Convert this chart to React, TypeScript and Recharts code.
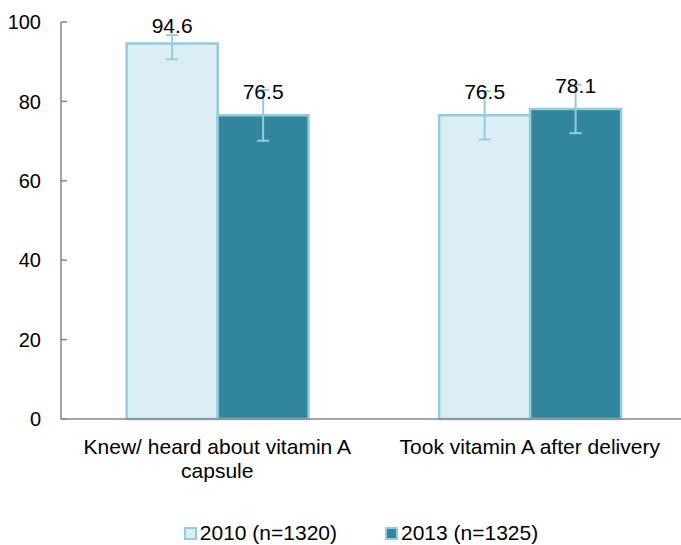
import React from "react";
import { BarChart, Bar, XAxis, YAxis, ErrorBar, LabelList, Legend } from "recharts";

const categories = ["Knew/ heard about vitamin A capsule", "Took vitamin A after delivery"];
const categoryTickLines = [["Knew/ heard about vitamin A", "capsule"], ["Took vitamin A after delivery"]];
const values2010 = [94.6, 76.5];
const values2013 = [76.5, 78.1];
const ci2010Low = [90.6, 70.4];
const ci2010High = [96.7, 82.6];
const ci2013Low = [70.1, 72.0];
const ci2013High = [82.9, 84.2];
const yTicks = [0, 20, 40, 60, 80, 100];
const edgeTicks = [0, 1, 2];
const seriesNames = ["2010 (n=1320)", "2013 (n=1325)"];

const data = categories.map((c, i) => ({
  name: c,
  v2010: values2010[i],
  v2013: values2013[i],
  e2010: [values2010[i] - ci2010Low[i], ci2010High[i] - values2010[i]],
  e2013: [values2013[i] - ci2013Low[i], ci2013High[i] - values2013[i]],
}));

const LIGHT = "#DBEEF4";
const DARK = "#31859C";
const BORDER = "#93CDDD";
const AXIS = "#868686";
const FONT = "'Liberation Sans', Arial, sans-serif";
const FS = 21;

const XTick = (props: any) => {
  const { x, y, payload, index } = props;
  const idx = categories.indexOf(payload.value);
  const lines = categoryTickLines[idx >= 0 ? idx : index] || [String(payload.value)];
  return (
    <text x={x} y={y + 27} textAnchor="middle" fontSize={FS} fontFamily={FONT} fill="#000">
      {lines.map((l: string, i: number) => (
        <tspan key={i} x={x} dy={i === 0 ? 0 : 24}>
          {l}
        </tspan>
      ))}
    </text>
  );
};

const ValueLabel = (props: any) => {
  const { x, y, width, value } = props;
  const base = Math.max(y - 16, 33);
  return (
    <text x={x + width / 2} y={base} textAnchor="middle" fontSize={FS} fontFamily={FONT} fill="#000">
      {value}
    </text>
  );
};

const LegendContent = () => (
  <div style={{ display: "flex", justifyContent: "center", fontFamily: FONT, fontSize: FS, color: "#000", lineHeight: "24px" }}>
    {seriesNames.map((n, i) => (
      <div key={n} style={{ display: "flex", alignItems: "center", marginLeft: i ? 48 : 0 }}>
        <span
          style={{
            display: "inline-block",
            width: 9,
            height: 9,
            background: i === 0 ? LIGHT : DARK,
            border: `2px solid ${BORDER}`,
            marginRight: 3,
          }}
        />
        <span>{n}</span>
      </div>
    ))}
  </div>
);

export default function App() {
  return (
    <div style={{ position: "fixed", left: 0, top: 0, width: 681, height: 545, overflow: "hidden", background: "#fff" }}>
      <BarChart
        width={690}
        height={545}
        data={data}
        margin={{ top: 22, right: 4, bottom: 56, left: 0 }}
        barCategoryGap="21%"
        barGap={0}
      >
        <XAxis
          xAxisId="edge"
          type="number"
          domain={[0, categories.length]}
          ticks={edgeTicks}
          tick={false}
          axisLine={false}
          tickLine={{ stroke: AXIS, strokeWidth: 1.5 }}
          tickSize={6}
          height={0}
          allowDataOverflow
        />
        <XAxis
          xAxisId="cat"
          dataKey="name"
          axisLine={{ stroke: AXIS, strokeWidth: 1.5 }}
          tickLine={false}
          tick={<XTick />}
          interval={0}
          height={70}
        />
        <YAxis
          domain={[0, 100]}
          ticks={yTicks}
          width={61}
          axisLine={{ stroke: AXIS, strokeWidth: 1.5 }}
          tickLine={{ stroke: AXIS, strokeWidth: 1.5 }}
          tickSize={-6}
          tickMargin={26}
          tick={{ fontSize: 20, fontFamily: FONT, fill: "#000" }}
        />
        <Legend
          layout="horizontal"
          align="center"
          verticalAlign="middle"
          content={<LegendContent />}
          wrapperStyle={{ position: "absolute", top: 521, left: 0, width: 722 }}
        />
        <Bar xAxisId="cat" dataKey="v2010" fill={LIGHT} stroke={BORDER} strokeWidth={2.5} isAnimationActive={false}>
          <ErrorBar dataKey="e2010" width={6} stroke={BORDER} strokeWidth={2} />
          <LabelList dataKey="v2010" content={<ValueLabel />} />
        </Bar>
        <Bar xAxisId="cat" dataKey="v2013" fill={DARK} stroke={BORDER} strokeWidth={2.5} isAnimationActive={false}>
          <ErrorBar dataKey="e2013" width={6} stroke={BORDER} strokeWidth={2} />
          <LabelList dataKey="v2013" content={<ValueLabel />} />
        </Bar>
      </BarChart>
    </div>
  );
}
